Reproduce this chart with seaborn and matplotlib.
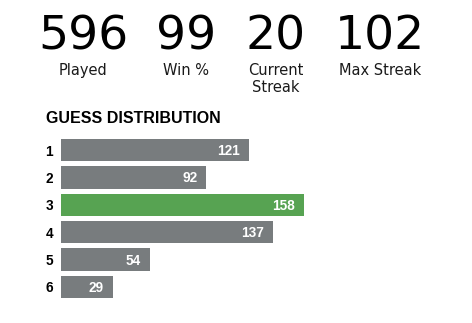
import matplotlib
matplotlib.use("Agg")
import matplotlib.pyplot as plt
import seaborn as sns

# ---- data ----
stat_values = [596, 99, 20, 102]
stat_labels = ["Played", "Win %", "Current\nStreak", "Max Streak"]
guesses = ["1", "2", "3", "4", "5", "6"]
counts = [121, 92, 158, 137, 54, 29]
highlight = "3"
title = "GUESS DISTRIBUTION"

# ---- style ----
GRAY = "#787c7e"
GREEN = "#57a352"
W, H = 472, 323
DPI = 100

sns.set_theme(style="white")
plt.rcParams["font.family"] = ["DejaVu Sans"]

fig = plt.figure(figsize=(W / DPI, H / DPI), dpi=DPI)
fig.patch.set_facecolor("white")

def fx(px):
    return px / W

def fy(py):
    return 1 - py / H

# statistics row
col_x = [83, 186, 276, 380]
for cx, val, lab in zip(col_x, stat_values, stat_labels):
    fig.text(fx(cx), fy(50), str(val), ha="center", va="baseline",
             fontsize=34, color="black", fontweight="normal")
    for li, line in enumerate(lab.split("\n")):
        fig.text(fx(cx), fy(75 + 17 * li), line, ha="center", va="baseline",
                 fontsize=10.5, color="#1a1a1a")

# title
fig.text(fx(46), fy(123), title, ha="left", va="baseline",
         fontsize=11.5, fontweight="bold", family=["Liberation Sans", "DejaVu Sans"],
         color="black")

# bar chart axes
ax_left, ax_right = 61, 411
ax_top, ax_bottom = 136.3, 300.7
ax = fig.add_axes([fx(ax_left), fy(ax_bottom), (ax_right - ax_left) / W,
                   (ax_bottom - ax_top) / H])

palette = {g: (GREEN if g == highlight else GRAY) for g in guesses}
sns.barplot(x=counts, y=guesses, hue=guesses, palette=palette, legend=False,
            orient="h", width=0.82, ax=ax, saturation=1)

px_per_unit = 1.48
pad = 9 / px_per_unit  # minimum bar padding (style)
for p in ax.patches:
    w = p.get_width()
    p.set_x(-pad)
    p.set_width(w + pad)
    p.set_edgecolor("none")

ax.set_xlim(-pad, -pad + (ax_right - ax_left) / px_per_unit)
ax.set_ylim(len(guesses) - 0.5, -0.5)

for i, v in enumerate(counts):
    ax.annotate(str(v), xy=(v, i), xytext=(-9, -5), textcoords="offset pixels",
                ha="right", va="baseline", color="white", fontsize=9.8,
                fontweight="bold", family=["Liberation Sans", "DejaVu Sans"])

ax.set_xticks([])
ax.set_xlabel("")
ax.set_ylabel("")
ax.tick_params(axis="y", length=0, pad=5.8)
for t in ax.get_yticklabels():
    t.set_fontweight("bold")
    t.set_fontsize(9.8)
    t.set_family(["Liberation Sans", "DejaVu Sans"])
    t.set_color("black")
    t.set_va("center_baseline")
for s in ax.spines.values():
    s.set_visible(False)
ax.set_facecolor("white")

fig.savefig("out.png", dpi=DPI, facecolor="white")
